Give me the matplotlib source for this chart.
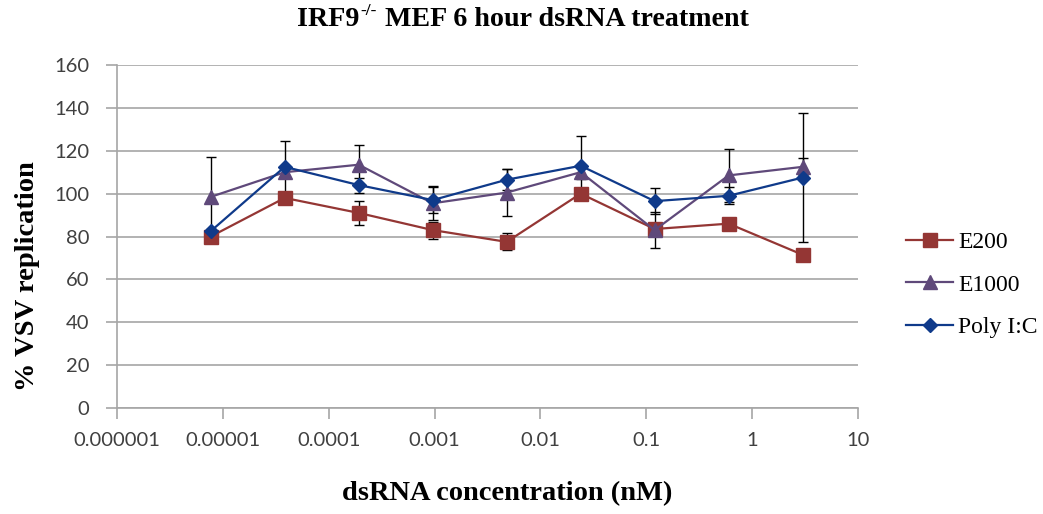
import matplotlib.pyplot as plt
import numpy as np

# dsRNA concentrations (nM), 5-fold dilutions
conc = [0.00000768, 0.0000384, 0.000192, 0.00096, 0.0048, 0.024, 0.12, 0.6, 3]

e200 = [80, 98, 91, 83, 77.5, 100, 83.5, 86, 71.5]
e200_err = [1, 2, 5.5, 4, 4, 1.5, 1, 1, 2]

e1000 = [98.5, 110, 113.5, 95.5, 100.5, 110, 83, 108.5, 112.5]
e1000_err = [18.5, 2, 9, 8, 11, 3, 8.5, 12.5, 4]

polyic = [82.5, 112.5, 104, 97, 106.5, 113, 96.5, 99, 107.5]
polyic_err = [1, 12, 3.5, 6, 5, 14, 6, 4, 30]

xticks = [1e-6, 1e-5, 1e-4, 1e-3, 1e-2, 1e-1, 1, 10]
xtick_labels = ['0.000001', '0.00001', '0.0001', '0.001', '0.01', '0.1', '1', '10']

serif = ['Liberation Serif', 'DejaVu Serif']

fig = plt.figure(figsize=(10.43, 5.14), dpi=100)
ax = fig.add_axes([0.1122, 0.2062, 0.7104, 0.6673])

series = [
    ('E200', e200, e200_err, '#943634', 's'),
    ('E1000', e1000, e1000_err, '#5F497A', '^'),
    ('Poly I:C', polyic, polyic_err, '#0F3A8A', 'D'),
]
for name, y, err, col, mk in series:
    ax.errorbar(conc, y, yerr=err, fmt='none', ecolor='black', elinewidth=1,
                capsize=3.5, capthick=1, zorder=2)
for name, y, err, col, mk in series:
    ms = 7.5 if mk == 'D' else 9.5
    ax.plot(conc, y, color=col, marker=mk, markersize=ms, lw=1.6, label=name, zorder=3)

ax.set_xscale('log')
ax.set_xlim(1e-6, 10)
ax.set_ylim(0, 160)
ax.set_yticks(np.arange(0, 161, 20))
ax.set_xticks(xticks)
ax.set_xticklabels(xtick_labels)
ax.minorticks_off()
ax.tick_params(axis='both', labelsize=14.5, colors='#a6a6a6', labelcolor='#404040',
               length=8, width=1.2, direction='out')
ax.tick_params(axis='y', pad=12)
ax.tick_params(axis='x', pad=9)
for lab in ax.get_xticklabels() + ax.get_yticklabels():
    lab.set_family(['Lato', 'DejaVu Sans'])

ax.yaxis.grid(True, color='#a6a6a6', lw=1.2)
ax.set_axisbelow(True)
for s in ['top', 'right']:
    ax.spines[s].set_visible(False)
for s in ['left', 'bottom']:
    ax.spines[s].set_color('#a6a6a6')
    ax.spines[s].set_linewidth(1.2)

fig.text(0.026, 0.463, '% VSV replication', family=serif, fontsize=20.5,
         fontweight='bold', rotation=90, ha='center', va='center')
fig.text(0.486, 0.039, 'dsRNA concentration (nM)', family=serif, fontsize=20.5,
         fontweight='bold', ha='center', va='center')

# title: IRF9 with superscript -/-
t1 = fig.text(0.285, 0.963, 'IRF9', family=serif, fontsize=20.2, fontweight='bold',
              ha='left', va='center')
t2 = fig.text(0, 0, '-/-', family=serif, fontsize=12.5, fontweight='bold',
              ha='left', va='bottom', transform=None)
t3 = fig.text(0, 0, ' MEF 6 hour dsRNA treatment', family=serif, fontsize=20.2,
              fontweight='bold', ha='left', va='bottom', transform=None)
fig.canvas.draw()
r = fig.canvas.get_renderer()
b1 = t1.get_window_extent(r)
t2.set_position((b1.x1 + 1, b1.y0 + 0.5 * b1.height))
fig.canvas.draw()
b2 = t2.get_window_extent(r)
t3.set_position((b2.x1 + 1, b1.y0))

ax.legend(loc='upper left', bbox_to_anchor=(1.065, 0.515), frameon=False,
          prop={'family': serif, 'size': 17}, handlelength=2.0, labelspacing=0.9,
          handletextpad=0.2, borderpad=0, borderaxespad=0)

fig.savefig('out.png')
